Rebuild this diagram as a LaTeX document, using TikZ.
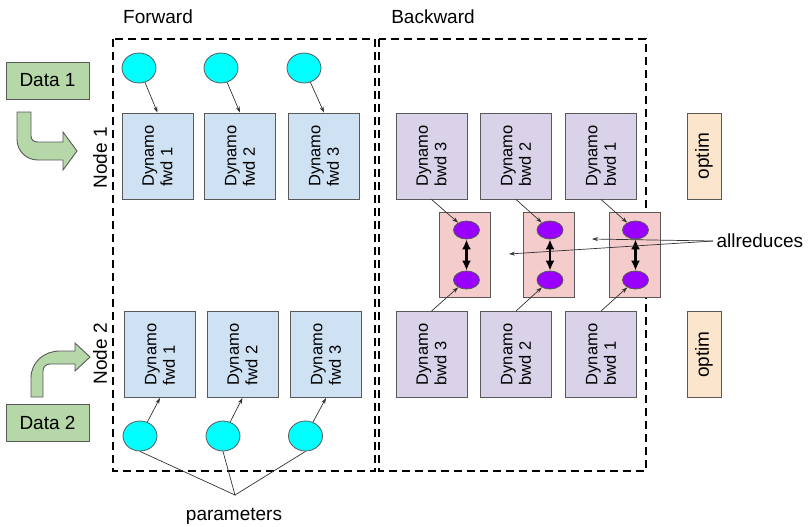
\documentclass[tikz,border=0pt]{standalone}
\usepackage{fontspec}
\setmainfont{Liberation Sans}
\usetikzlibrary{arrows.meta,shapes.geometric}
\definecolor{fwdblue}{HTML}{CFE2F3}
\definecolor{bwdlilac}{HTML}{D9D2E9}
\definecolor{reducepink}{HTML}{F4CCCC}
\definecolor{optimpeach}{HTML}{FCE5CD}
\definecolor{datagreen}{HTML}{B6D7A8}
\definecolor{gradviolet}{HTML}{9900FF}
\definecolor{paramcyan}{HTML}{00FFFF}
\definecolor{edgegray}{HTML}{595959}

\begin{document}
\begin{tikzpicture}[x=1pt, y=-1pt,
  box/.style={draw=edgegray, line width=0.9pt, rotate=90, minimum width=86pt, minimum height=71pt, inner sep=0pt, align=left, font=\fontsize{16.5}{18.5}\selectfont},
  fwdbox/.style={box, fill=fwdblue},
  bwdbox/.style={box, fill=bwdlilac},
  optimbox/.style={box, fill=optimpeach, minimum height=34pt, font=\fontsize{19}{22}\selectfont},
  databox/.style={draw=edgegray, line width=0.9pt, fill=datagreen, minimum width=83pt, minimum height=37pt, font=\fontsize{19}{22}\selectfont},
  reducebox/.style={draw=edgegray, line width=0.9pt, fill=reducepink, minimum width=51pt, minimum height=85pt},
  param/.style={ellipse, draw=edgegray, line width=0.8pt, fill=paramcyan, minimum width=34pt, minimum height=30pt, inner sep=0pt},
  grad/.style={ellipse, draw=edgegray, line width=0.8pt, fill=gradviolet, minimum width=26pt, minimum height=18pt, inner sep=0pt},
  txt/.style={font=\fontsize{19}{22}\selectfont},
  conn/.style={draw=black!80, line width=0.7pt, -{Stealth[length=6pt,width=4pt]}},
  sync/.style={draw=black, line width=2.5pt, {Latex[length=10pt,width=9pt]}-{Latex[length=10pt,width=9pt]}},
  stage/.style={line width=1.5pt, dash pattern=on 8pt off 5pt}]
\useasboundingbox (0,0) rectangle (809,527);
%Stages
\draw[stage] (113,39) rectangle (375,471);
\draw[stage] (379,39) rectangle (646,471);
\node[txt] (fwdtitle) at (158,17) {Forward};
\node[txt] (bwdtitle) at (433,17) {Backward};
%Data
\node[databox] (data1) at (47.5,80.5) {Data 1};
\node[databox] (data2) at (47.5,423) {Data 2};
\filldraw[fill=datagreen, draw=edgegray, line width=0.9pt] (17,112) -- (31,112) -- (31,136) .. controls (31,140) and (34,142) .. (38,142) -- (63,142) -- (63,132) -- (77,151) -- (63,170) -- (63,160) -- (38,160) .. controls (26,160) and (17,151) .. (17,139) -- cycle;
\filldraw[fill=datagreen, draw=edgegray, line width=0.9pt] (31,397) -- (31,378) .. controls (31,362) and (44,351) .. (60,351) -- (75,351) -- (75,343) -- (90,357) -- (75,371) -- (75,364) -- (50,364) .. controls (46,364) and (43,367) .. (43,371) -- (43,397) -- cycle;
\node[txt, rotate=90] (node1) at (100,158) {Node 1};
\node[txt, rotate=90] (node2) at (100,354) {Node 2};
%Forward, node 1
\node[fwdbox] (f11) at (157.5,156) {Dynamo\\fwd 1};
\node[fwdbox] (f12) at (240,156) {Dynamo\\fwd 2};
\node[fwdbox] (f13) at (324,156) {Dynamo\\fwd 3};
\node[param] (p11) at (139,68) {};
\node[param] (p12) at (221,68) {};
\node[param] (p13) at (304,68) {};
\draw[conn] (p11) -- (f11.east);
\draw[conn] (p12) -- (f12.east);
\draw[conn] (p13) -- (f13.east);
%Forward, node 2
\node[fwdbox] (f21) at (160,354.5) {Dynamo\\fwd 1};
\node[fwdbox] (f22) at (242.5,354.5) {Dynamo\\fwd 2};
\node[fwdbox] (f23) at (326,354.5) {Dynamo\\fwd 3};
\node[param] (p21) at (140,436) {};
\node[param] (p22) at (223,436) {};
\node[param] (p23) at (305.5,436) {};
\draw[conn] (p21) -- (f21.west);
\draw[conn] (p22) -- (f22.west);
\draw[conn] (p23) -- (f23.west);
\node[txt] (params) at (234,516) {parameters};
\coordinate (parjoin) at (235,495);
\draw[draw=black!80, line width=0.7pt] (p21.south) -- (parjoin) -- (p22.south);
\draw[draw=black!80, line width=0.7pt] (p23.south) -- (parjoin);
%Backward
\node[bwdbox] (b11) at (431.5,156) {Dynamo\\bwd 3};
\node[bwdbox] (b12) at (516,156) {Dynamo\\bwd 2};
\node[bwdbox] (b13) at (601,156) {Dynamo\\bwd 1};
\node[bwdbox] (b21) at (431.5,354.5) {Dynamo\\bwd 3};
\node[bwdbox] (b22) at (516,354.5) {Dynamo\\bwd 2};
\node[bwdbox] (b23) at (601,354.5) {Dynamo\\bwd 1};
\node[reducebox] (r1) at (464.5,254.5) {};
\node[reducebox] (r2) at (549,254.5) {};
\node[reducebox] (r3) at (634.5,254.5) {};
\node[grad] (g11) at (466.5,230) {};
\node[grad] (g12) at (550,230) {};
\node[grad] (g13) at (635.5,230) {};
\node[grad] (g21) at (466.5,280) {};
\node[grad] (g22) at (550,280) {};
\node[grad] (g23) at (635.5,280) {};
\draw[conn] (b11.west) -- (g11);
\draw[conn] (b12.west) -- (g12);
\draw[conn] (b13.west) -- (g13);
\draw[conn] (b21.east) -- (g21);
\draw[conn] (b22.east) -- (g22);
\draw[conn] (b23.east) -- (g23);
\draw[sync] (g11) -- (g21);
\draw[sync] (g12) -- (g22);
\draw[sync] (g13) -- (g23);
%Optimizer
\node[optimbox] (o1) at (704,156) {optim};
\node[optimbox] (o2) at (704,354.5) {optim};
%Allreduces
\node[txt, anchor=west] (allred) at (713,241) {allreduces};
\coordinate (ar1) at (592,239);
\coordinate (ar2) at (509,254);
\draw[conn] (allred.west) -- (ar1);
\draw[conn] (allred.west) -- (ar2);
\end{tikzpicture}
\end{document}
